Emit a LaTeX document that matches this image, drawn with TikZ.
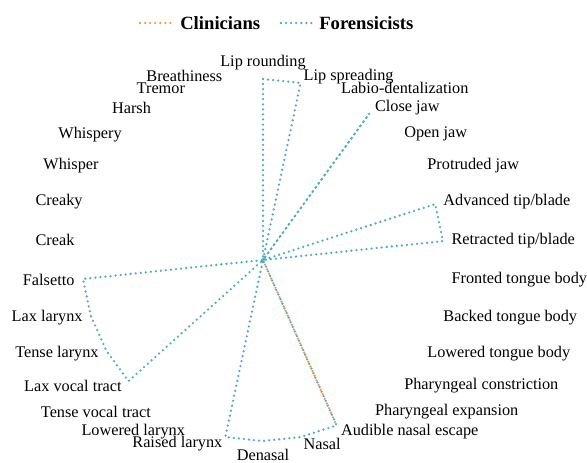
\documentclass[tikz,border=0pt]{standalone}
\usepackage{fontspec}
\setmainfont{Liberation Serif}
\usepackage{xcolor}
\usepackage{tikz}

\begin{document}
\begin{tikzpicture}[x=0.75pt,y=-0.75pt]
    \definecolor{myorange}{RGB}{247,150,70}
    \definecolor{myblue}{RGB}{75,172,198}

    \tikzstyle{series}=[line width=1.9pt,line cap=round,line join=round,dash pattern=on 0pt off 3.8pt]  % dotted data line
    \tikzstyle{axislabel}=[inner sep=1pt,font=\fontsize{12.2pt}{14pt}\selectfont]  % category names
    \tikzstyle{legendtext}=[inner sep=0pt,anchor=west,font=\fontsize{14pt}{16pt}\selectfont\bfseries]

    \useasboundingbox (0,0) rectangle (587,462);

    % legend
    \node[legendtext](clin) at (180,23){Clinicians};
    \node[legendtext](fore) at (319,23){Forensicists};
    \coordinate (clinA) at (140,23);
    \coordinate (clinB) at (172,23);
    \coordinate (foreA) at (281,23);
    \coordinate (foreB) at (313,23);
    \draw[series,myorange](clinA)--(clinB);
    \draw[series,myblue](foreA)--(foreB);

    % radar, clockwise from the top
    \begin{scope}[shift={(263,260)},yscale=-1]
        \coordinate (o) at (0,0);
        \foreach \lab [count=\i from 0] in {Lip rounding,Lip spreading,Labio-dentalization,Close jaw,Open jaw,Protruded jaw,Advanced tip/blade,Retracted tip/blade,Fronted tongue body,Backed tongue body,Lowered tongue body,Pharyngeal constriction,Pharyngeal expansion,Audible nasal escape,Nasal,Denasal,Raised larynx,Lowered larynx,Tense vocal tract,Lax vocal tract,Tense larynx,Lax larynx,Falsetto,Creak,Creaky,Whisper,Whispery,Harsh,Tremor,Breathiness}{
            \pgfmathsetmacro\ang{90-12*\i}
            \ifnum\i=0 \def\anc{south}\else\ifnum\i<15 \def\anc{west}\else\ifnum\i=15 \def\anc{north}\else\def\anc{east}\fi\fi\fi
            \node[axislabel,anchor=\anc](cat\i) at (\ang:188){\lab};
        }
        % data points
        \foreach \v [count=\i from 0] in {1,1,0,1,0,0,1,1,0,0,0,0,0,1,1,1,1,0,0,1,1,1,1,0,0,0,0,0,0,0}{
            \pgfmathsetmacro\ang{90-12*\i}
            \coordinate (f\i) at (\ang:181*\v);
        }
        \coordinate (k13) at (-66:181);  % clinicians: audible nasal escape only

        \draw[series,myorange](o)--(k13);
        \draw[series,myblue](f0) \foreach \i in {1,...,29}{--(f\i)} --cycle;
    \end{scope}
\end{tikzpicture}
\end{document}
